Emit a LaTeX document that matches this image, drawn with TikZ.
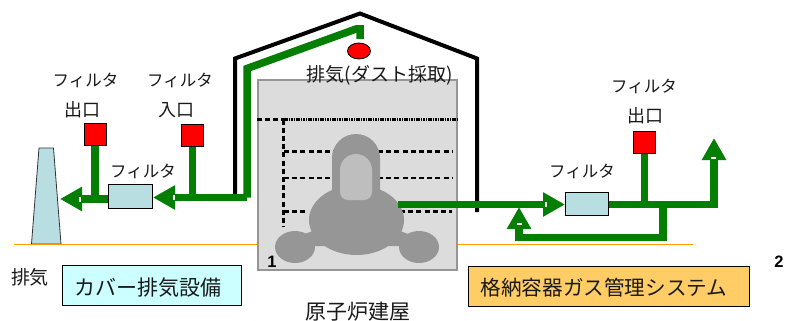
\documentclass[tikz,border=0pt]{standalone}
\usepackage{fontspec}
\setmainfont{Noto Sans CJK JP}
\newfontfamily\latinbold{Liberation Sans Bold}
\usetikzlibrary{arrows.meta,calc,shapes.geometric}
\definecolor{pipegreen}{HTML}{047F04}
\definecolor{filterblue}{HTML}{B9DEE2}
\definecolor{bldg}{HTML}{DCDCDC}
\definecolor{bldgedge}{HTML}{969696}
\definecolor{vessel}{HTML}{969696}
\definecolor{vesselin}{HTML}{BEBEBE}
\definecolor{ground}{HTML}{FF9900}
\definecolor{cyanbox}{HTML}{CCFFFF}
\definecolor{orangebox}{HTML}{FFCC66}
\tikzset{
  pipe/.style={draw=pipegreen,line width=7.5pt,line cap=butt,line join=miter},
  pipehead/.style={pipe,-{Triangle[length=22pt,width=23pt,fill=pipegreen]}},
  redsq/.style={draw=black,line width=1pt,fill=red,minimum width=22pt,minimum height=22pt,inner sep=0pt},
  filterbox/.style={draw=black,line width=1pt,fill=filterblue,inner sep=0pt},
  notch/.style={fill=white,draw=none,inner sep=0pt},
  lab/.style={inner sep=0pt,text=black!90,font=\fontsize{#1}{#1}\selectfont},
  lab/.default=16.5,
  dashline/.style={draw=black,line width=2.2pt,dash pattern=on 5pt off 3.2pt},
  titlebox/.style={draw=black,line width=1pt,inner sep=0pt}
}
\begin{document}
\begin{tikzpicture}[x=1pt,y=-1pt]
\useasboundingbox (0,0) rectangle (785,321);
% ground
\coordinate (gl) at (14,244.5);
\coordinate (gr) at (693,244.5);
\draw[ground,line width=1pt] (gl) -- (gr);
% stack
\fill[filterblue,draw=black!80,line width=0.8pt] (31.5,244) -- (39,148) -- (53.5,148) -- (61,244) -- cycle;
\draw[ground,line width=1pt] (14,244.5) -- (70,244.5);
% building
\node[draw=bldgedge,line width=1.2pt,fill=bldg,minimum width=199pt,minimum height=190pt,inner sep=0pt] (bldg) at (357.5,175) {};
% dashed levels
\draw[dashline] (256.5,119.5) -- (284,119.5);
\draw[draw=black,line width=2.2pt,dash pattern=on 1.5pt off 0.9pt] (284,119.5) -- (458,119.5);
\draw[dashline] (283.5,119.5) -- (283.5,227);
\draw[dashline] (284,151.5) -- (335,151.5) (378,151.5) -- (452,151.5);
\draw[dashline] (284,178) -- (335,178) (378,178) -- (452,178);
\draw[dashline] (284,211.5) -- (308,211.5) (400,211.5) -- (452,211.5);
% reactor
\fill[vessel] (356.5,220) ellipse [x radius=47.5,y radius=35];
\fill[vessel] (332,200) -- (332,158) arc[start angle=180,end angle=360,x radius=24,y radius=24] -- (380,200) -- cycle;
\fill[vessel] (295,247) ellipse [x radius=20,y radius=16];
\fill[vessel] (419,247) ellipse [x radius=20,y radius=16];
\fill[vessel] (305,234) -- (320,228) -- (325,246) -- (312,246) -- cycle;
\fill[vessel] (408,234) -- (392,228) -- (388,246) -- (402,246) -- cycle;
\fill[vesselin] (340,192) -- (340,170) arc[start angle=180,end angle=360,x radius=16,y radius=16] -- (372,192) arc[start angle=0,end angle=90,x radius=8,y radius=8] -- (348,200) arc[start angle=90,end angle=180,x radius=8,y radius=8] -- cycle;
% roof
\coordinate (roofA) at (235,197);
\coordinate (roofB) at (235,58.5);
\coordinate (roofC) at (360,13.5);
\coordinate (roofD) at (477,58.5);
\coordinate (roofE) at (477,212);
\draw[black,line width=4pt,line join=miter] (roofA) -- (roofB) -- (roofC) -- (roofD) -- (roofE);
% sampling point
\node[draw=black,line width=0.8pt,fill=red,ellipse,minimum width=23pt,minimum height=16pt,inner sep=0pt] (samp) at (359,51) {};
% nodes
\node[redsq] (r1) at (95,134.5) {};
\node[redsq] (r2) at (192.5,135.5) {};
\node[redsq] (r3) at (644.5,142.5) {};
\node[filterbox,minimum width=44pt,minimum height=24pt] (f1) at (130.5,196) {};
\node[filterbox,minimum width=43pt,minimum height=22.5pt] (f2) at (587,204) {};
% exhaust pipes
\coordinate (sampTop) at (360,39);
\coordinate (bendC) at (360,29);
\coordinate (bendB) at (356,29);
\coordinate (bendA) at (247,68.5);
\coordinate (jA) at (247,197.5);
\coordinate (outL) at (60,199);
\draw[pipehead] (jA) -- (f1.east |- jA);
\draw[pipe] (sampTop) -- (bendC) -- (bendB) -- (bendA) -- (jA);
\draw[pipe] (r2.south) -- (r2.south |- jA);
\draw[pipehead] (f1.west |- outL) -- (outL);
\draw[pipe] (r1.south) -- (r1.south |- outL);
\node[notch,minimum width=2pt,minimum height=5pt] at (173.5,197.5) {};
\node[notch,minimum width=2pt,minimum height=5pt] at (80,199) {};
% containment gas system
\coordinate (rs) at (398,204.5);
\coordinate (js) at (714,204.5);
\coordinate (tipR) at (714,138);
\coordinate (br) at (663,204.5);
\coordinate (brb) at (663,237.5);
\coordinate (ret) at (519,237.5);
\coordinate (tipB) at (519,207);
\draw[pipehead] (rs) -- (f2.west |- rs);
\draw[pipe] (f2.east |- rs) -- (js);
\draw[pipehead] (714,208) -- (tipR);
\draw[pipe] (r3.south) -- (r3.south |- rs);
\draw[pipe] (br) -- (brb);
\draw[pipe] (666.5,237.5) -- (515.5,237.5);
\draw[pipehead] (519,241) -- (tipB);
\node[notch,minimum width=2pt,minimum height=5pt] at (546,204.5) {};
\node[notch,minimum width=5pt,minimum height=2pt] at (713.5,158) {};
\node[notch,minimum width=5pt,minimum height=2pt] at (519,224) {};
% labels
\node[lab] (t1) at (85.5,80) {フィルタ};
\node[lab=18] (t2) at (82.5,110) {出口};
\node[lab] (t3) at (180,80) {フィルタ};
\node[lab=18] (t4) at (176.5,110) {入口};
\node[lab] (t5) at (143,171) {フィルタ};
\node[lab] (t6) at (582,171) {フィルタ};
\node[lab] (t7) at (644,86) {フィルタ};
\node[lab=18] (t8) at (645,116) {出口};
\node[lab=19] (t9) at (30,277) {排気};
\node[lab=19] (t10) at (379.5,75.5) {排気(ダスト採取)};
\node[lab=21] (t11) at (358,312) {原子炉建屋};
\node[titlebox,fill=cyanbox,minimum width=179pt,minimum height=39.5pt] (bc) at (151.5,285.5) {};
\node[lab=21] (t12) at (148,288) {カバー排気設備};
\node[titlebox,fill=orangebox,minimum width=281pt,minimum height=40pt] (bo) at (608.5,286) {};
\node[lab=20.6] (t13) at (604,288) {格納容器ガス管理システム};
\node[inner sep=0pt,font=\latinbold\fontsize{16.5}{16.5}\selectfont] (n1) at (272,262) {1};
\node[inner sep=0pt,font=\latinbold\fontsize{16.5}{16.5}\selectfont] (n2) at (779,262) {2};
\end{tikzpicture}
\end{document}
